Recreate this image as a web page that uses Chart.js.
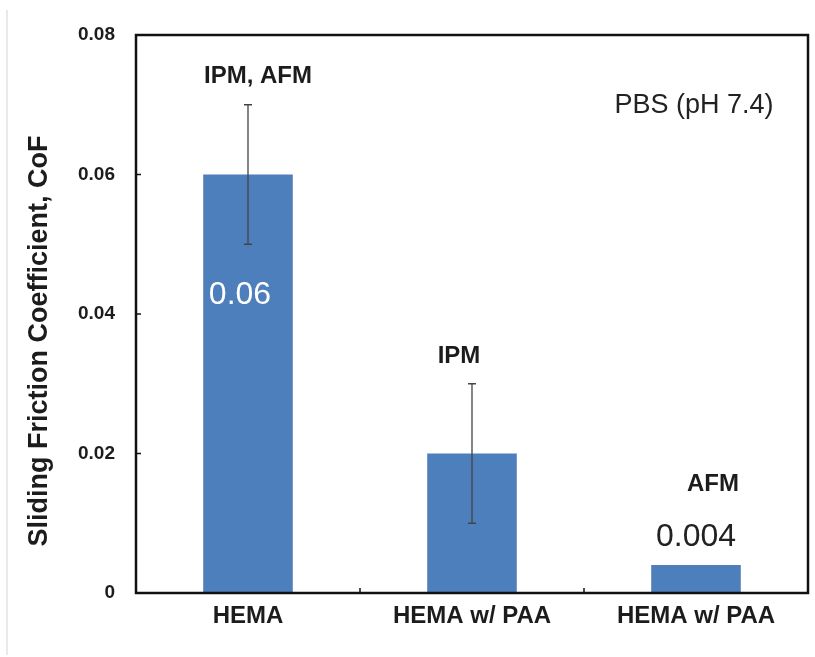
<!DOCTYPE html>
<html>
<head>
<meta charset="utf-8">
<script src="https://cdn.jsdelivr.net/npm/chart.js@4.4.1/dist/chart.umd.min.js"></script>
<style>
  html, body { margin: 0; padding: 0; background: #fff; }
  #wrap { width: 815px; height: 657px; }
</style>
</head>
<body>
<div id="wrap"><canvas id="cofChart" width="815" height="657"></canvas></div>
<script>
// --- data ---
const categories = ['HEMA', 'HEMA w/ PAA', 'HEMA w/ PAA'];
const cofValues = [0.06, 0.02, 0.004];
const cofErrors = [0.01, 0.01, null];
const methodLabels = ['IPM, AFM', 'IPM', 'AFM'];
const valueLabels = ['0.06', '', '0.004'];
const yTicks = [0, 0.02, 0.04, 0.06, 0.08];
const noteText = 'PBS (pH 7.4)';
const yTitle = 'Sliding Friction Coefficient, CoF';

const FONT = '"Liberation Sans", Arial, sans-serif';
const INK = '#1c1c1c';

// error bars
const errorBars = {
    id: 'errorBars',
    afterDatasetsDraw(chart) {
        const { ctx, scales: { y } } = chart;
        const meta = chart.getDatasetMeta(0);
        ctx.save();
        ctx.strokeStyle = '#444';
        ctx.lineWidth = 1.3;
        meta.data.forEach((bar, i) => {
            const err = cofErrors[i];
            if (err == null) return;
            const top = y.getPixelForValue(cofValues[i] + err);
            const bot = y.getPixelForValue(cofValues[i] - err);
            ctx.beginPath();
            ctx.moveTo(bar.x, top); ctx.lineTo(bar.x, bot);
            ctx.moveTo(bar.x - 4, top); ctx.lineTo(bar.x + 4, top);
            ctx.moveTo(bar.x - 4, bot); ctx.lineTo(bar.x + 4, bot);
            ctx.stroke();
        });
        ctx.restore();
    }
};

// frame, inward ticks, texts
const decorations = {
    id: 'decorations',
    afterDraw(chart) {
        const { ctx, chartArea: a, scales: { x, y } } = chart;
        const meta = chart.getDatasetMeta(0);
        ctx.save();

        // faint edge of the original picture
        ctx.strokeStyle = '#e2e2e2';
        ctx.lineWidth = 1.5;
        ctx.beginPath(); ctx.moveTo(7, 10); ctx.lineTo(7, 655); ctx.stroke();

        // plot frame
        ctx.strokeStyle = '#111';
        ctx.lineWidth = 2.5;
        ctx.strokeRect(a.left, a.top, a.right - a.left, a.bottom - a.top);

        // inward ticks
        ctx.lineWidth = 1.5;
        ctx.beginPath();
        yTicks.forEach(v => {
            const py = y.getPixelForValue(v);
            ctx.moveTo(a.left, py); ctx.lineTo(a.left + 5, py);
        });
        for (let i = 1; i < categories.length; i++) {
            const px = (x.getPixelForValue(i - 1) + x.getPixelForValue(i)) / 2;
            ctx.moveTo(px, a.bottom); ctx.lineTo(px, a.bottom - 5);
        }
        ctx.stroke();

        ctx.textAlign = 'center';
        ctx.textBaseline = 'middle';

        // method labels above each bar
        const methodDx = [10, -13, 17];
        const methodDy = [28, 27, 81];
        ctx.fillStyle = INK;
        ctx.font = 'bold 24px ' + FONT;
        meta.data.forEach((bar, i) => {
            const topVal = cofValues[i] + (cofErrors[i] || 0);
            ctx.fillText(methodLabels[i], bar.x + methodDx[i], y.getPixelForValue(topVal) - methodDy[i]);
        });

        // value labels
        ctx.font = '32px ' + FONT;
        meta.data.forEach((bar, i) => {
            if (!valueLabels[i]) return;
            if (i === 0) {
                ctx.fillStyle = '#ffffff';
                ctx.fillText(valueLabels[i], bar.x - 8, y.getPixelForValue(cofValues[i]) + 121);
            } else {
                ctx.fillStyle = '#222';
                ctx.fillText(valueLabels[i], bar.x, y.getPixelForValue(cofValues[i]) - 28);
            }
        });

        // condition note
        ctx.fillStyle = '#222';
        ctx.font = '27px ' + FONT;
        ctx.fillText(noteText, 694, 106);

        // y title
        ctx.translate(40, 341);
        ctx.rotate(-Math.PI / 2);
        ctx.fillStyle = INK;
        ctx.font = 'bold 27px ' + FONT;
        ctx.fillText(yTitle, 0, 0);

        ctx.restore();
    }
};

new Chart(document.getElementById('cofChart'), {
    type: 'bar',
    data: {
        labels: categories,
        datasets: [{
            data: cofValues,
            backgroundColor: '#4e7fbd',
            borderWidth: 0,
            categoryPercentage: 1.0,
            barPercentage: 0.4
        }]
    },
    options: {
        responsive: false,
        animation: false,
        devicePixelRatio: 1,
        layout: { padding: { left: 0, right: 7, top: 35, bottom: 0 } },
        plugins: { legend: { display: false }, tooltip: { enabled: false } },
        scales: {
            x: {
                grid: { display: false, drawTicks: false },
                border: { display: false },
                ticks: { color: INK, font: { family: FONT, size: 24, weight: 'bold' }, padding: 9, maxRotation: 0 },
                afterFit: s => { s.height = 64; }
            },
            y: {
                min: 0, max: 0.08,
                grid: { display: false, drawTicks: false },
                border: { display: false },
                afterBuildTicks: s => { s.ticks = yTicks.map(v => ({ value: v })); },
                ticks: {
                    color: INK,
                    font: { family: FONT, size: 19, weight: 'bold' },
                    padding: 21,
                    callback: v => v === 0 ? '0' : v.toFixed(2)
                },
                afterFit: s => { s.width = 136; }
            }
        }
    },
    plugins: [errorBars, decorations]
});
</script>
</body>
</html>
